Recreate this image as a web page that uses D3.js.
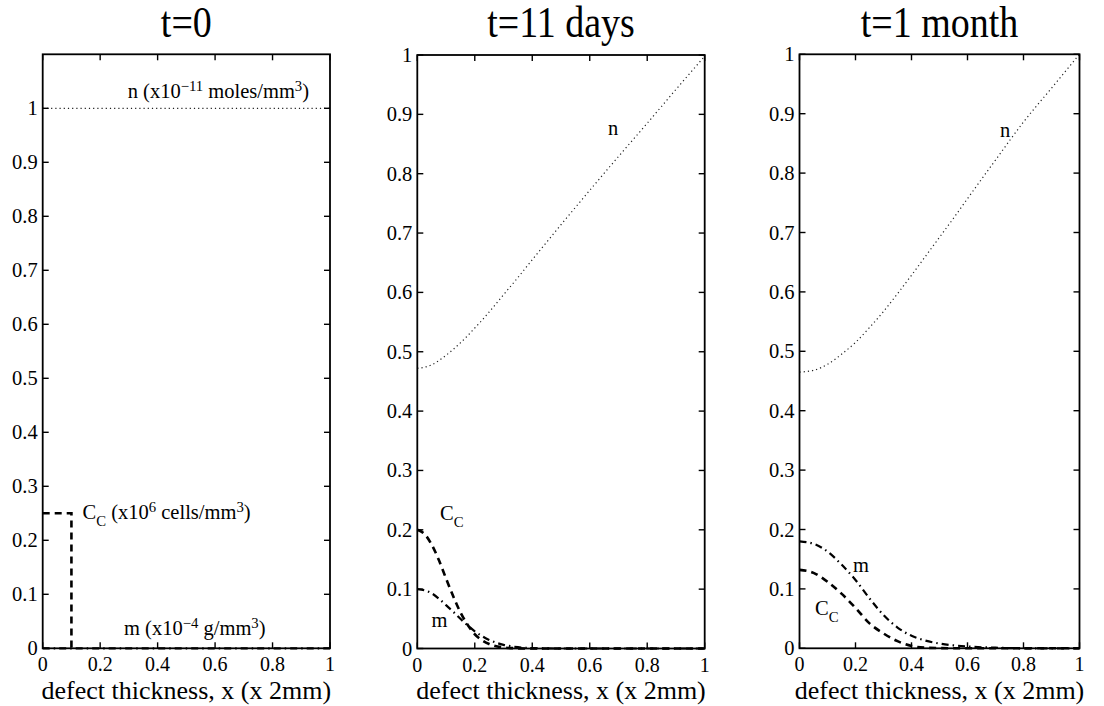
<!DOCTYPE html>
<html><head><meta charset="utf-8">
<script src="https://cdn.jsdelivr.net/npm/d3@7"></script>
</head>
<body style="margin:0;background:#fff">
<svg id="fig" width="1104" height="706"></svg>
<script>
// ---- data ----
const titles = ["t=0", "t=11 days", "t=1 month"];
const xTicks = [0, 0.2, 0.4, 0.6, 0.8, 1];
const yTicks = [0, 0.1, 0.2, 0.3, 0.4, 0.5, 0.6, 0.7, 0.8, 0.9, 1];
const xLabel = "defect thickness, x (x 2mm)";

// t = 0
const n0X = [0, 1];
const n0Y = [1, 1];
const cc0X = [0, 0.1, 0.1];
const cc0Y = [0.25, 0.25, 0];
const m0X = [0, 1];
const m0Y = [0, 0];

// t = 11 days
const x11 = [0, 0.025, 0.05, 0.075, 0.1, 0.125, 0.15, 0.175, 0.2, 0.225, 0.25, 0.3, 0.35, 0.4, 0.5, 0.6, 0.7, 0.8, 0.9, 1];
const n11 = [0.472, 0.474, 0.478, 0.485, 0.494, 0.504, 0.515, 0.527, 0.54, 0.553, 0.567, 0.596, 0.625, 0.655, 0.714, 0.772, 0.829, 0.885, 0.942, 0.998];
const cc11 = [0.2, 0.193, 0.175, 0.149, 0.118, 0.088, 0.061, 0.04, 0.024, 0.014, 0.0075, 0.0018, 0.0003, 0, 0, 0, 0, 0, 0, 0];
const m11 = [0.1, 0.098, 0.093, 0.084, 0.073, 0.062, 0.05, 0.039, 0.029, 0.021, 0.0145, 0.0062, 0.0023, 0.0007, 0, 0, 0, 0, 0, 0];

// t = 1 month
const x1m = [0, 0.05, 0.1, 0.15, 0.2, 0.25, 0.3, 0.35, 0.4, 0.45, 0.5, 0.55, 0.6, 0.7, 0.8, 0.9, 1];
const n1m = [0.465, 0.468, 0.478, 0.495, 0.515, 0.54, 0.567, 0.597, 0.628, 0.66, 0.692, 0.724, 0.757, 0.822, 0.886, 0.943, 1.0];
const cc1m = [0.132, 0.127, 0.112, 0.092, 0.068, 0.042, 0.025, 0.012, 0.004, 0.001, 0.0003, 0, 0, 0, 0, 0, 0];
const m1m = [0.18, 0.176, 0.163, 0.141, 0.115, 0.084, 0.056, 0.035, 0.021, 0.013, 0.008, 0.005, 0.003, 0.001, 0, 0, 0];

// ---- layout ----
const panels = [
  {left: 42.7, right: 330, top: 54.3, bottom: 648.3, ymax: 1.1,
   series: [
     {x: n0X, y: n0Y, style: "dot"},
     {x: m0X, y: m0Y, style: "dashdot"},
     {x: cc0X, y: cc0Y, style: "dash"}]},
  {left: 417.3, right: 704.7, top: 55, bottom: 648.5, ymax: 1,
   series: [
     {x: x11, y: n11, style: "dot"},
     {x: x11, y: m11, style: "dashdot"},
     {x: x11, y: cc11, style: "dash"}]},
  {left: 799.5, right: 1079.5, top: 54.3, bottom: 648.3, ymax: 1,
   series: [
     {x: x1m, y: n1m, style: "dot"},
     {x: x1m, y: m1m, style: "dashdot"},
     {x: x1m, y: cc1m, style: "dash"}]}
];

const styles = {
  dot: {w: 1.2, dash: "1.2,3", color: "#222"},
  dash: {w: 2.6, dash: "7,5", color: "#000"},
  dashdot: {w: 2.2, dash: "7,4,1.5,4", color: "#000"}
};

const FONT = '"Liberation Serif"';
const svg = d3.select("#fig");
const fmt = d => d === 0 ? "0" : d === 1 ? "1" : d3.format(".1f")(d);

function txt(sel, xPos, yPos, size, anchor) {
  return sel.append("text").style("font-family", FONT).attr("font-size", size)
    .attr("x", xPos).attr("y", yPos)
    .attr("text-anchor", anchor || "start");
}

panels.forEach((p, i) => {
  const x = d3.scaleLinear().domain([0, 1]).range([p.left, p.right]);
  const y = d3.scaleLinear().domain([0, p.ymax]).range([p.bottom, p.top]);
  const g = svg.append("g");

  // curves
  p.series.forEach(s => {
    const st = styles[s.style];
    const line = d3.line().x(d => x(d[0])).y(d => y(d[1]));
    if (!(s.style === "dash" && i === 0)) line.curve(d3.curveMonotoneX);
    const pts = s.x.map((v, k) => [v, s.y[k]]);
    g.append("path").attr("d", line(pts))
      .attr("fill", "none").attr("stroke", st.color).attr("stroke-width", st.w)
      .attr("stroke-dasharray", st.dash);
  });

  // box
  g.append("rect").attr("x", p.left).attr("y", p.top)
    .attr("width", p.right - p.left).attr("height", p.bottom - p.top)
    .attr("fill", "none").attr("stroke", "#000").attr("stroke-width", 1.8);

  // ticks inside, all sides
  const tl = 6;
  xTicks.forEach(t => {
    g.append("line").attr("x1", x(t)).attr("x2", x(t)).attr("y1", p.bottom).attr("y2", p.bottom - tl).attr("stroke", "#000").attr("stroke-width", 1.4);
    g.append("line").attr("x1", x(t)).attr("x2", x(t)).attr("y1", p.top).attr("y2", p.top + tl).attr("stroke", "#000").attr("stroke-width", 1.4);
    txt(g, x(t), p.bottom + 23, 20, "middle").text(fmt(t));
  });
  yTicks.forEach(t => {
    g.append("line").attr("x1", p.left).attr("x2", p.left + tl).attr("y1", y(t)).attr("y2", y(t)).attr("stroke", "#000").attr("stroke-width", 1.4);
    g.append("line").attr("x1", p.right).attr("x2", p.right - tl).attr("y1", y(t)).attr("y2", y(t)).attr("stroke", "#000").attr("stroke-width", 1.4);
    txt(g, p.left - 5, y(t) + 7, 20.5, "end").text(fmt(t));
  });

  // axis label
  txt(g, (p.left + p.right) / 2, 699, 26, "middle").text(xLabel);

  // title (slightly tall, as in the reference)
  txt(g, 0, 0, 38, "middle")
    .attr("transform", `translate(${(p.left + p.right) / 2},37) scale(1,1.15)`)
    .text(titles[i]);
});

// ---- annotations ----
function label(parts, xPos, yPos, size) {
  const t = txt(svg, xPos, yPos, size);
  let shift = 0;
  parts.forEach(pt => {
    const target = pt.type === "sup" ? -7 : pt.type === "sub" ? 7 : 0;
    t.append("tspan").attr("dy", target - shift)
      .attr("font-size", pt.type ? size * 0.72 : size).text(pt.t);
    shift = target;
  });
  return t;
}
label([{t: "n (x10"}, {t: "\u221211", type: "sup"}, {t: " moles/mm"}, {t: "3", type: "sup"}, {t: ")"}], 127.7, 98, 20.5);
label([{t: "C"}, {t: "C", type: "sub"}, {t: " (x10"}, {t: "6", type: "sup"}, {t: " cells/mm"}, {t: "3", type: "sup"}, {t: ")"}], 82.5, 519, 20.5);
label([{t: "m (x10"}, {t: "\u22124", type: "sup"}, {t: " g/mm"}, {t: "3", type: "sup"}, {t: ")"}], 124, 635, 20.5);

label([{t: "n"}], 608, 135, 20.5);
label([{t: "C"}, {t: "C", type: "sub"}], 440, 520, 20.5);
label([{t: "m"}], 431.5, 627, 20.5);

label([{t: "n"}], 1000, 137, 20.5);
label([{t: "m"}], 853, 572, 20.5);
label([{t: "C"}, {t: "C", type: "sub"}], 815, 615, 20.5);
</script>
</body></html>
